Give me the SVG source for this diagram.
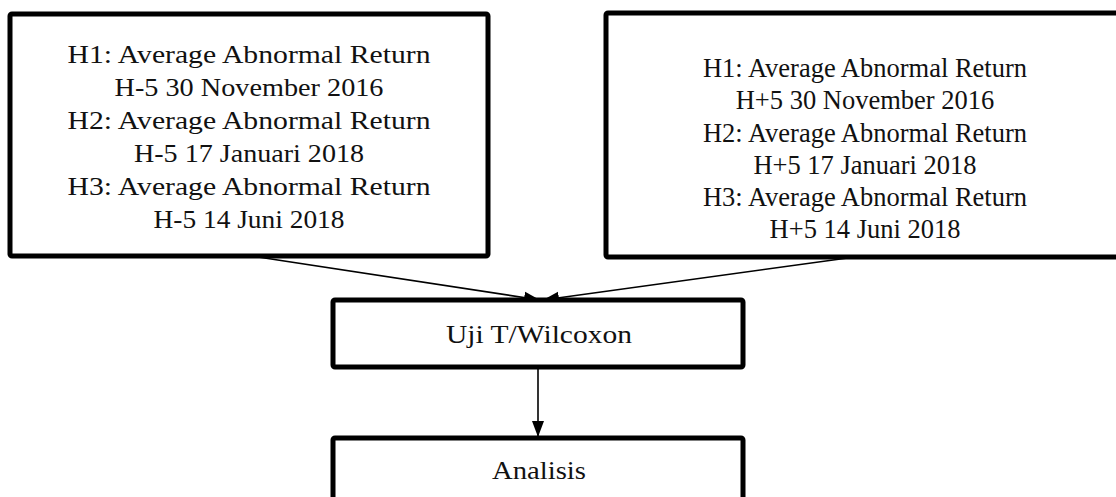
<svg xmlns="http://www.w3.org/2000/svg" width="1116" height="497" viewBox="0 0 1116 497">
<style>
.box{fill:#fff;stroke:#000;stroke-width:5;stroke-linejoin:round}
.pal{font-family:"Liberation Serif","Times New Roman",serif;font-size:26px;fill:#111;text-anchor:middle}
.tnr{font-family:"Liberation Serif","Times New Roman",serif;font-size:26.5px;fill:#111;text-anchor:middle}
.conn{stroke:#000;stroke-width:1.6;fill:none}
</style>
<defs>
<marker id="arr" markerUnits="userSpaceOnUse" markerWidth="18" markerHeight="14" refX="16" refY="7" orient="auto">
<path d="M0,1 L16,7 L0,13 z" fill="#000"/>
</marker>
</defs>
<rect width="1116" height="497" fill="#fff"/>
<g id="connectors">
<line class="conn" x1="258" y1="257" x2="540" y2="300" marker-end="url(#arr)"/>
<line class="conn" x1="855" y1="257" x2="543" y2="300" marker-end="url(#arr)"/>
<line class="conn" x1="538" y1="367" x2="538" y2="437" marker-end="url(#arr)"/>
</g>
<g id="node-left">
<rect class="box" x="10" y="14" width="478" height="242" rx="2"/>
<text class="pal" x="249" y="63" textLength="363" lengthAdjust="spacingAndGlyphs">H1: Average Abnormal Return</text>
<text class="pal" x="249" y="96" textLength="269" lengthAdjust="spacingAndGlyphs">H-5 30 November 2016</text>
<text class="pal" x="249" y="129" textLength="363" lengthAdjust="spacingAndGlyphs">H2: Average Abnormal Return</text>
<text class="pal" x="249" y="162" textLength="230" lengthAdjust="spacingAndGlyphs">H-5 17 Januari 2018</text>
<text class="pal" x="249" y="195" textLength="363" lengthAdjust="spacingAndGlyphs">H3: Average Abnormal Return</text>
<text class="pal" x="249" y="228" textLength="191" lengthAdjust="spacingAndGlyphs">H-5 14 Juni 2018</text>
</g>
<g id="node-right">
<rect class="box" x="606" y="13" width="520" height="244" rx="2"/>
<text class="tnr" x="865" y="77">H1: Average Abnormal Return</text>
<text class="tnr" x="865" y="109">H+5 30 November 2016</text>
<text class="tnr" x="865" y="142">H2: Average Abnormal Return</text>
<text class="tnr" x="865" y="174">H+5 17 Januari 2018</text>
<text class="tnr" x="865" y="206">H3: Average Abnormal Return</text>
<text class="tnr" x="865" y="238">H+5 14 Juni 2018</text>
</g>
<g id="node-uji">
<rect class="box" x="333" y="300" width="410" height="67" rx="2"/>
<text class="pal" x="539" y="343" textLength="186" lengthAdjust="spacingAndGlyphs">Uji T/Wilcoxon</text>
</g>
<g id="node-analisis">
<rect class="box" x="333" y="438" width="410" height="80" rx="2"/>
<text class="pal" x="539" y="479" textLength="94" lengthAdjust="spacingAndGlyphs">Analisis</text>
</g>
</svg>
